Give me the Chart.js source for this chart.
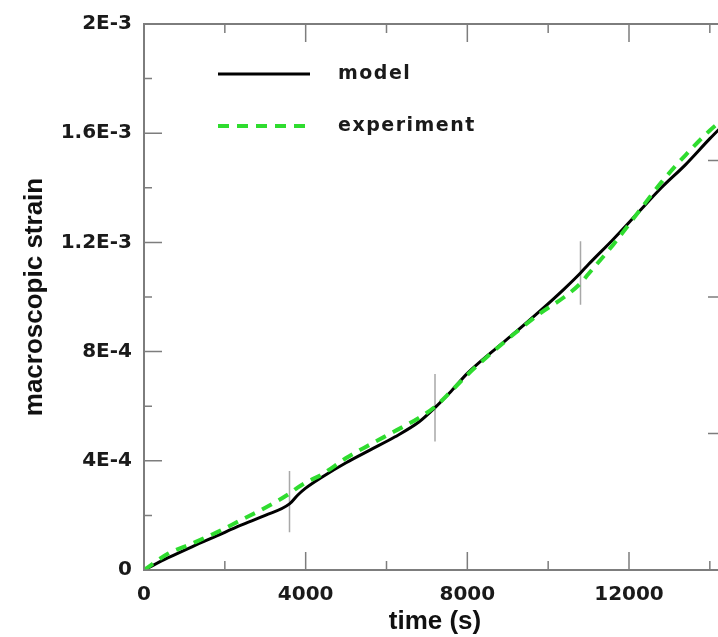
<!DOCTYPE html>
<html>
<head>
<meta charset="utf-8">
<script src="https://cdn.jsdelivr.net/npm/chart.js@4.4.1/dist/chart.umd.min.js"></script>
<style>
  html, body { margin: 0; padding: 0; background: #fff; overflow: hidden; }
  #wrap { width: 740px; height: 637px; position: relative; }
</style>
</head>
<body>
<div id="wrap"><canvas id="canvas"></canvas></div>
<script>
// time (s)
const times = [0, 600, 1200, 1800, 2400, 3000, 3600, 3800, 4000, 4400, 5000, 5600, 6200, 6800, 7200,
  7600, 8000, 8600, 9200, 9800, 10400, 10800, 11000, 11600, 12200, 12800, 13400, 14000, 14400];
const modelStrain = [0, 0.45e-4, 0.86e-4, 1.25e-4, 1.64e-4, 2.0e-4, 2.42e-4, 2.74e-4, 3.0e-4, 3.4e-4, 3.93e-4,
  4.4e-4, 4.87e-4, 5.42e-4, 5.95e-4, 6.55e-4, 7.2e-4, 7.98e-4, 8.72e-4, 9.49e-4, 10.3e-4, 10.88e-4,
  11.2e-4, 12.1e-4, 13.05e-4, 14.0e-4, 14.85e-4, 15.8e-4, 16.4e-4];
const experimentStrain = [0, 0.6e-4, 0.98e-4, 1.38e-4, 1.83e-4, 2.28e-4, 2.8e-4, 3.02e-4, 3.2e-4, 3.5e-4, 4.1e-4,
  4.6e-4, 5.08e-4, 5.57e-4, 5.98e-4, 6.55e-4, 7.15e-4, 7.95e-4, 8.7e-4, 9.4e-4, 10.0e-4, 10.5e-4,
  10.85e-4, 11.9e-4, 13.05e-4, 14.2e-4, 15.2e-4, 16.1e-4, 16.6e-4];

// thin vertical marks on the curves
const markerTimes = [3600, 7200, 10800];
const markerLow = [1.38e-4, 4.71e-4, 9.72e-4];
const markerHigh = [3.63e-4, 7.18e-4, 12.04e-4];

const xTicks = [0, 4000, 8000, 12000];
const xTickLabels = ['0', '4000', '8000', '12000'];
const xMinorTicks = [2000, 6000, 10000, 14000];
const yTicks = [0, 4e-4, 8e-4, 12e-4, 16e-4, 20e-4];
const yTickLabels = ['0', '4E-4', '8E-4', '1.2E-3', '1.6E-3', '2E-3'];
const yMinorTicks = [2e-4, 6e-4, 10e-4, 14e-4, 18e-4];
const y2Ticks = [0, 1, 2, 3, 4];
const y2MinorTicks = [0.5, 1.5, 2.5, 3.5];

const frameColor = '#7d7d7d';
const tickFont = { family: 'DejaVu Sans', weight: 'bold', size: 20 };
const titleFont = { family: 'Liberation Sans', weight: 'bold', size: 26 };

const markerData = [];
markerTimes.forEach((t, i) => {
  markerData.push({ x: t, y: markerLow[i] }, { x: t, y: markerHigh[i] }, { x: t, y: null });
});

// tick marks drawn inward on all four sides
const innerTicks = {
  id: 'innerTicks',
  afterDraw(chart) {
    const { ctx, chartArea: a, scales } = chart;
    ctx.save();
    ctx.strokeStyle = frameColor;
    ctx.lineWidth = 1.5;
    ctx.beginPath();
    const vx = (vals, len) => vals.forEach(v => {
      const px = scales.x.getPixelForValue(v);
      ctx.moveTo(px, a.bottom); ctx.lineTo(px, a.bottom - len);
      ctx.moveTo(px, a.top); ctx.lineTo(px, a.top + len);
    });
    const vy = (vals, len) => vals.forEach(v => {
      const py = scales.y.getPixelForValue(v);
      ctx.moveTo(a.left, py); ctx.lineTo(a.left + len, py);
    });
    const vy2 = (vals, len) => vals.forEach(v => {
      const py = scales.y2.getPixelForValue(v);
      ctx.moveTo(a.right, py); ctx.lineTo(a.right - len, py);
    });
    vx(xTicks, 18); vx(xMinorTicks, 9);
    vy(yTicks, 18); vy(yMinorTicks, 8);
    vy2(y2Ticks, 18); vy2(y2MinorTicks, 8);
    ctx.stroke();
    ctx.restore();
  }
};

// legend inside the plot
const legendBox = {
  id: 'legendBox',
  afterDraw(chart) {
    const ctx = chart.ctx;
    const items = chart.data.datasets.slice(0, 2);
    ctx.save();
    items.forEach((ds, i) => {
      const y = 74 + i * 52;
      ctx.strokeStyle = ds.borderColor;
      ctx.lineWidth = ds.borderWidth;
      ctx.setLineDash(ds.borderDash || []);
      ctx.beginPath();
      ctx.moveTo(218, y); ctx.lineTo(310, y);
      ctx.stroke();
      ctx.setLineDash([]);
      ctx.fillStyle = '#1a1a1a';
      ctx.font = 'bold 19px "DejaVu Sans"';
      ctx.letterSpacing = '1.5px';
      ctx.textBaseline = 'middle';
      ctx.fillText(ds.label, 338, y);
    });
    ctx.restore();
  }
};

const ctx = document.getElementById('canvas').getContext('2d');
const myChart = new Chart(ctx, {
  type: 'line',
  data: {
    datasets: [
      {
        label: 'model',
        data: times.map((t, i) => ({ x: t, y: modelStrain[i] })),
        borderColor: '#000000',
        borderWidth: 3,
        pointRadius: 0,
        cubicInterpolationMode: 'monotone',
        order: 1
      },
      {
        label: 'experiment',
        data: times.map((t, i) => ({ x: t, y: experimentStrain[i] })),
        borderColor: '#2fdc2f',
        borderWidth: 4,
        borderDash: [11, 8],
        pointRadius: 0,
        cubicInterpolationMode: 'monotone',
        order: 0
      },
      {
        label: 'marks',
        data: markerData,
        borderColor: '#a8a8a8',
        borderWidth: 1.5,
        pointRadius: 0,
        spanGaps: false,
        order: 2
      }
    ]
  },
  options: {
    responsive: true,
    maintainAspectRatio: false,
    animation: false,
    layout: { padding: 0 },
    plugins: {
      legend: { display: false },
      tooltip: { enabled: false }
    },
    scales: {
      x: {
        type: 'linear',
        position: 'bottom',
        min: 0,
        max: 14400,
        afterBuildTicks: s => { s.ticks = xTicks.map(v => ({ value: v })); },
        afterFit: s => { s.height = 67; },
        ticks: {
          font: tickFont,
          color: '#1a1a1a',
          padding: 13,
          maxRotation: 0,
          autoSkip: false,
          callback: (v, i) => xTickLabels[i]
        },
        grid: { drawOnChartArea: false, drawTicks: false },
        border: { color: frameColor, width: 2 },
        title: { display: true, text: 'time (s)', font: titleFont, color: '#111', padding: { top: 0, bottom: 0 } }
      },
      x2: {
        type: 'linear',
        position: 'top',
        min: 0,
        max: 14400,
        afterFit: s => { s.height = 18; },
        ticks: { display: false },
        grid: { drawOnChartArea: false, drawTicks: false },
        border: { color: frameColor, width: 2 }
      },
      y: {
        type: 'linear',
        position: 'left',
        min: 0,
        max: 0.002,
        afterBuildTicks: s => { s.ticks = yTicks.map(v => ({ value: v })); },
        afterFit: s => { s.width = 144; },
        ticks: {
          font: tickFont,
          color: '#1a1a1a',
          padding: 12,
          autoSkip: false,
          callback: (v, i) => yTickLabels[i]
        },
        grid: { drawOnChartArea: false, drawTicks: false },
        border: { color: frameColor, width: 2 },
        title: { display: true, text: 'macroscopic strain', font: titleFont, color: '#111', padding: { top: 19, bottom: 0 } }
      },
      y2: {
        type: 'linear',
        position: 'right',
        min: 0,
        max: 4,
        afterFit: s => { s.width = 14; },
        ticks: { display: false },
        grid: { drawOnChartArea: false, drawTicks: false },
        border: { color: frameColor, width: 2 }
      }
    }
  },
  plugins: [innerTicks, legendBox]
});
</script>
</body>
</html>
